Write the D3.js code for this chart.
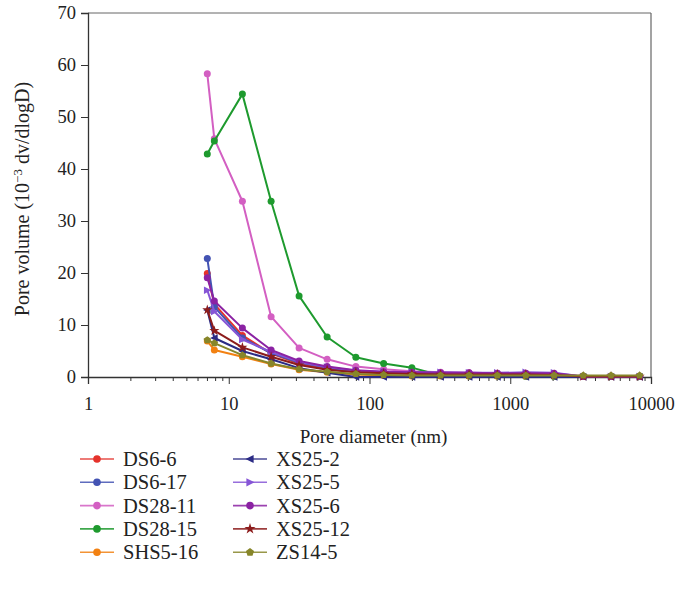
<!DOCTYPE html>
<html><head><meta charset="utf-8">
<script src="https://cdn.jsdelivr.net/npm/d3@7"></script>
<style>body{margin:0;background:#fff}svg{display:block}text{font-family:"Liberation Serif","DejaVu Serif",serif;fill:#222}</style>
</head><body><svg id="c" width="676" height="597"></svg>
<script>
const diameters = [7.04, 7.9, 12.5, 20, 31.6, 50, 80, 126, 200, 320, 510, 810, 1290, 2050, 3300, 5200, 8300];
const seriesNames = ["DS6-6","DS6-17","DS28-11","DS28-15","SHS5-16","XS25-2","XS25-5","XS25-6","XS25-12","ZS14-5"];
const DS6_6   = [19.9, 14.0, 8.0, 4.5, 2.6, 1.6, 1.0, 0.8, 0.7, 0.6, 0.5, 0.5, 0.4, 0.4, 0.1, 0.1, 0.1];
const DS6_17  = [22.8, 13.5, 7.5, 4.6, 2.8, 1.8, 1.1, 0.9, 0.8, 0.7, 0.7, 0.6, 0.6, 0.5, 0.1, 0.1, 0.1];
const DS28_11 = [58.3, 45.8, 33.8, 11.6, 5.6, 3.4, 2.0, 1.5, 1.1, 0.9, 0.8, 0.7, 0.7, 0.6, 0.1, 0.1, 0.1];
const DS28_15 = [42.9, 45.4, 54.4, 33.8, 15.6, 7.7, 3.8, 2.6, 1.8, 0.3, 0.2, 0.2, 0.1, 0.1, 0.1, 0.1, 0.1];
const SHS5_16 = [6.9, 5.2, 3.9, 2.5, 1.4, 0.9, 0.5, 0.3, 0.2, 0.2, 0.2, 0.2, 0.2, 0.2, 0.1, 0.1, 0.1];
const XS25_2  = [12.9, 7.5, 5.0, 3.4, 1.7, 0.8, 0.0, 0.0, 0.0, 0.0, 0.0, 0.0, 0.0, 0.0, 0.0, 0.0, 0.0];
const XS25_5  = [16.7, 12.6, 7.2, 4.8, 2.9, 1.9, 1.2, 1.0, 0.9, 0.9, 0.8, 0.8, 0.9, 0.8, 0.1, 0.1, 0.1];
const XS25_6  = [19.1, 14.6, 9.4, 5.2, 3.1, 2.0, 1.3, 1.0, 0.9, 0.8, 0.8, 0.7, 0.7, 0.7, 0.1, 0.1, 0.1];
const XS25_12 = [12.9, 8.9, 5.7, 3.9, 2.3, 1.4, 0.9, 0.7, 0.6, 0.5, 0.5, 0.5, 0.5, 0.4, 0.1, 0.1, 0.1];
const ZS14_5  = [7.1, 6.5, 4.2, 2.6, 1.5, 1.0, 0.6, 0.4, 0.3, 0.3, 0.3, 0.3, 0.3, 0.3, 0.3, 0.3, 0.3];
const seriesValues = [DS6_6, DS6_17, DS28_11, DS28_15, SHS5_16, XS25_2, XS25_5, XS25_6, XS25_12, ZS14_5];
const colors = ["#e5322b","#4353b3","#d35fc2","#1e9a2e","#f28112","#2b2b85","#8655d6","#8b22a3","#8c1c1c","#87862a"];
const shapes = ["circle","circle","circle","circle","circle","triL","triR","circle","star","pent"];
const xTicks = [1, 10, 100, 1000, 10000];
const yTicks = [0, 10, 20, 30, 40, 50, 60, 70];

const svg = d3.select("#c");
const L = 88, R = 651, T = 13, B = 377;
const FS = 18.5;
const x = d3.scaleLog().domain([1, 10000]).range([L, R]);
const y = d3.scaleLinear().domain([0, 70]).range([B, T]);

function symPath(shape, s) {
  if (shape === "circle") return d3.symbol(d3.symbolCircle, s * s * Math.PI)();
  if (shape === "star") return d3.symbol(d3.symbolStar, s * s * 2.6)();
  if (shape === "pent") {
    const pts = d3.range(5).map(i => { const a = -Math.PI/2 + i * 2*Math.PI/5; return [Math.cos(a)*s*1.12, Math.sin(a)*s*1.12]; });
    return "M" + pts.map(p => p.join(",")).join("L") + "Z";
  }
  const r = s * 1.2;
  if (shape === "triL") return `M${-r},0L${r*0.8},${-r*0.9}L${r*0.8},${r*0.9}Z`;
  if (shape === "triR") return `M${r},0L${-r*0.8},${-r*0.9}L${-r*0.8},${r*0.9}Z`;
}

// frame top/right
svg.append("line").attr("x1", L).attr("x2", R).attr("y1", T).attr("y2", T).attr("stroke", "#666").attr("stroke-width", 1);
svg.append("line").attr("x1", R).attr("x2", R).attr("y1", T).attr("y2", B).attr("stroke", "#666").attr("stroke-width", 1.2);

// y axis
const ya = svg.append("g").attr("transform", `translate(${L},0)`)
  .call(d3.axisLeft(y).tickValues(yTicks).tickSize(7).tickPadding(5));
ya.select(".domain").attr("stroke", "#333").attr("stroke-width", 1.3);
ya.selectAll(".tick line").attr("stroke", "#333");
ya.selectAll("text").attr("font-size", FS).attr("font-family", "Liberation Serif");

// x axis
const minor = [];
for (let d = 1; d < 10000; d *= 10) for (let k = 2; k <= 9; k++) minor.push(d * k);
const xm = svg.append("g").attr("transform", `translate(0,${B})`)
  .call(d3.axisBottom(x).tickValues(minor).tickSize(4).tickFormat(""));
xm.select(".domain").remove();
xm.selectAll(".tick line").attr("stroke", "#333");
const xa = svg.append("g").attr("transform", `translate(0,${B})`)
  .call(d3.axisBottom(x).tickValues(xTicks).tickSize(7).tickPadding(13).tickFormat(d3.format("d")));
xa.select(".domain").attr("stroke", "#333").attr("stroke-width", 1.3);
xa.selectAll(".tick line").attr("stroke", "#333");
xa.selectAll("text").attr("font-size", FS).attr("font-family", "Liberation Serif");

// titles
svg.append("text").attr("x", (L + R) / 2 + 4).attr("y", 443).attr("text-anchor", "middle").attr("font-size", 19).text("Pore diameter (nm)");
const yt = svg.append("text").attr("transform", `translate(29,${(T + B) / 2 + 4}) rotate(-90)`).attr("text-anchor", "middle").attr("font-size", 20);
yt.append("tspan").text("Pore volume (10");
yt.append("tspan").attr("dy", -7).attr("font-size", 13).text("−3");
yt.append("tspan").attr("dy", 7).text(" dv/dlogD)");

// series
const line = d3.line().x(d => x(d[0])).y(d => y(d[1]));
seriesNames.forEach((name, i) => {
  const pts = diameters.map((d, j) => [d, seriesValues[i][j]]);
  const g = svg.append("g");
  g.append("path").attr("d", line(pts)).attr("fill", "none").attr("stroke", colors[i]).attr("stroke-width", 2).attr("stroke-linejoin", "round");
  g.selectAll("path.m").data(pts).join("path").attr("class", "m")
    .attr("transform", d => `translate(${x(d[0])},${y(d[1])})`)
    .attr("d", symPath(shapes[i], 3.5)).attr("fill", colors[i]);
});

// legend
seriesNames.forEach((name, i) => {
  const col = Math.floor(i / 5), row = i % 5;
  const lx = 80 + col * 153, ly = 459 + row * 23.3;
  const g = svg.append("g").attr("transform", `translate(${lx},${ly})`);
  g.append("line").attr("x1", 0).attr("x2", 34).attr("stroke", colors[i]).attr("stroke-width", 1.6).attr("opacity", 0.85);
  g.append("path").attr("transform", "translate(17,0)").attr("d", symPath(shapes[i], 3.8)).attr("fill", colors[i]);
  g.append("text").attr("x", 43).attr("y", 0).attr("dy", "0.35em").attr("font-size", 20.5).text(name);
});
</script></body></html>
